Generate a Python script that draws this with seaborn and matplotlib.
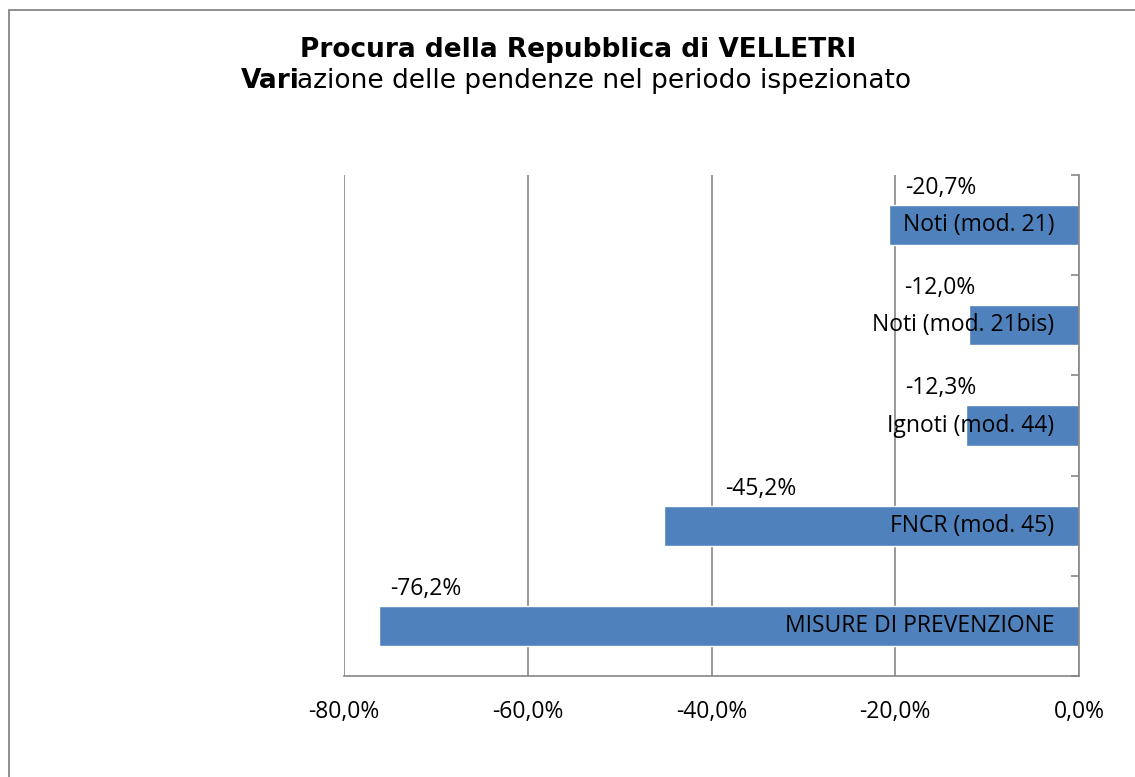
import numpy as np
import pandas as pd
import matplotlib
matplotlib.use('Agg')
import matplotlib.pyplot as plt
import matplotlib.patches as mpatches
import seaborn as sns

categorie = ['Noti (mod. 21)', 'Noti (mod. 21bis)', 'Ignoti (mod. 44)',
             'FNCR (mod. 45)', 'MISURE DI PREVENZIONE']
variazione = [-20.7, -12.0, -12.3, -45.2, -76.2]
etichette = ['-20,7%', '-12,0%', '-12,3%', '-45,2%', '-76,2%']
xtick_vals = [-80, -60, -40, -20, 0]

# posizione (x) delle etichette dei valori, come nel grafico originale
label_x = [-15.0, -15.2, -15.1, -34.6, -71.1]

df = pd.DataFrame({'categoria': categorie, 'variazione': variazione})

sns.set_style('white')
plt.rcParams['font.family'] = ['Open Sans', 'DejaVu Sans']
plt.rcParams['text.color'] = 'black'
plt.rcParams['xtick.labelcolor'] = 'black'

grigio = '#868686'
blu = '#4F81BD'

fig = plt.figure(figsize=(11.35, 7.77), dpi=100)
ax = fig.add_axes([344/1135, 1-676/777, (1079-344)/1135, (676-175)/777])

sns.barplot(data=df, x='variazione', y='categoria', orient='h',
            color=blu, width=0.4, saturation=1, ax=ax, zorder=3)

ax.set_xlim(-80, 0)
ax.set_ylim(4.5, -0.5)
ax.set_xticks(xtick_vals)
ax.set_xticklabels([f"{v:.1f}%".replace('.', ',') for v in xtick_vals], fontsize=16.5)
ax.grid(axis='x', color=grigio, lw=1.2, zorder=0)
ax.grid(axis='y', visible=False)

ax.yaxis.tick_right()
ax.set_yticks(np.arange(-0.5, 5.0, 1.0))
ax.set_yticklabels([])
ax.tick_params(axis='y', direction='in', length=6, width=1.2, color=grigio)
ax.tick_params(axis='x', direction='out', length=6, width=1.2, color=grigio,
               labelcolor='black', pad=11)
ax.set_xlabel('')
ax.set_ylabel('')

for s in ['top', 'left']:
    ax.spines[s].set_visible(False)
for s in ['bottom', 'right']:
    ax.spines[s].set_color(grigio)
    ax.spines[s].set_linewidth(1.2)
    ax.spines[s].set_zorder(4)

for i, (cat, lab, lx) in enumerate(zip(categorie, etichette, label_x)):
    ax.text(-2.7, i, cat, ha='right', va='center', fontsize=16.5, color='black', zorder=5)
    ax.text(lx, i - 0.37, lab, ha='center', va='center', fontsize=16.5, color='black', zorder=5)

# titolo
fig.text(578/1135, 1 - 57/777, 'Procura della Repubblica di VELLETRI', ha='center',
         va='baseline', fontsize=19, fontweight='bold', family='DejaVu Sans', color='black')
t1 = fig.text(0, 1 - 88/777, 'Vari', ha='left', va='baseline', fontsize=19,
              fontweight='bold', family='DejaVu Sans', color='black')
t2 = fig.text(0, 1 - 88/777, 'azione delle pendenze nel periodo ispezionato', ha='left',
              va='baseline', fontsize=19, family='DejaVu Sans', color='black')
fig.canvas.draw()
r = fig.canvas.get_renderer()
w1 = t1.get_window_extent(r).width
w2 = t2.get_window_extent(r).width
x0 = 577 - (w1 + w2) / 2
t1.set_x(x0 / 1135)
t2.set_x((x0 + w1 - 2) / 1135)

# cornice
fig.patches.append(mpatches.Rectangle((9/1135, -0.1), 1.2, 1 - 10/777 + 0.1,
                                      transform=fig.transFigure, fill=False,
                                      ec=grigio, lw=1.3))

plt.savefig('out.png', dpi=100)
